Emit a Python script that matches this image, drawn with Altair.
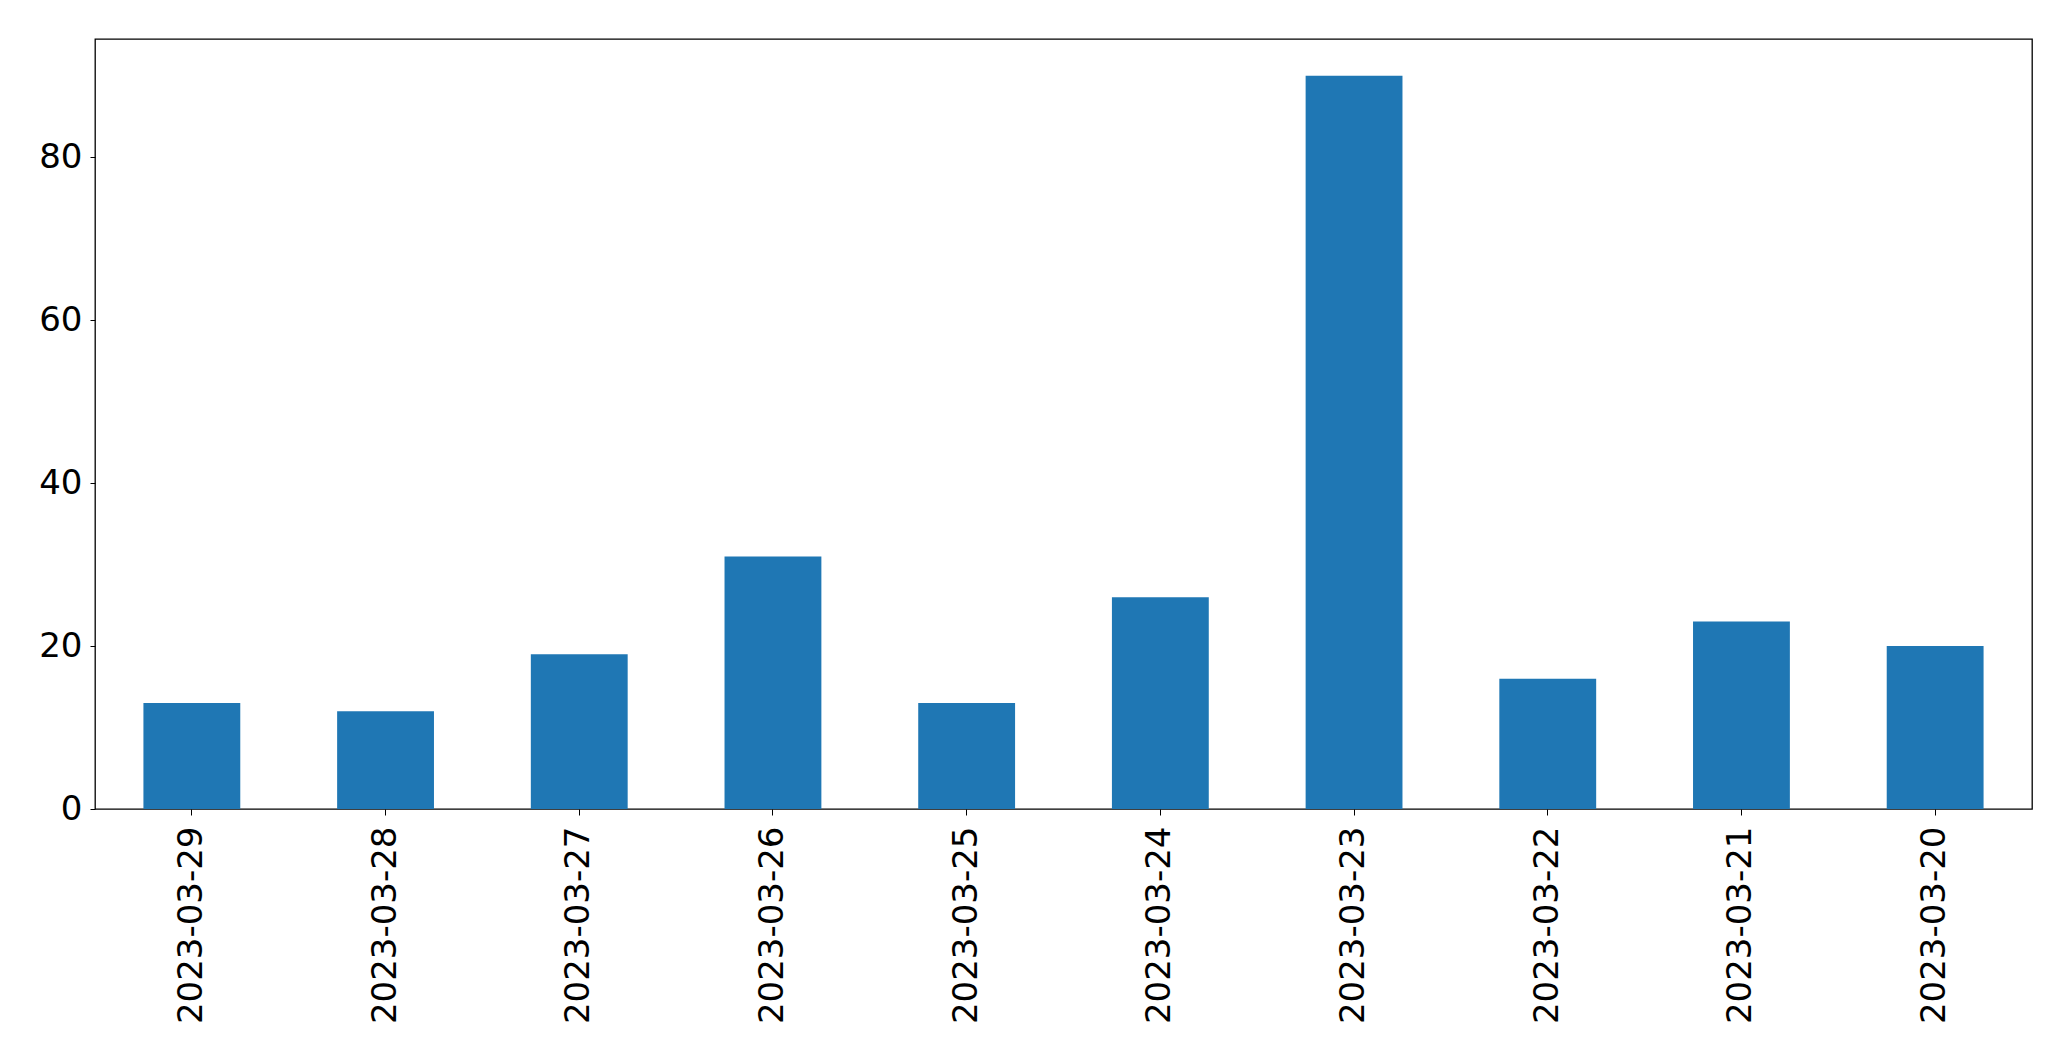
import altair as alt
import pandas as pd

dates = ["2023-03-29", "2023-03-28", "2023-03-27", "2023-03-26", "2023-03-25",
         "2023-03-24", "2023-03-23", "2023-03-22", "2023-03-21", "2023-03-20"]
counts = [13, 12, 19, 31, 13, 26, 90, 16, 23, 20]

df = pd.DataFrame({"date": dates, "count": counts})

chart = alt.Chart(df).mark_bar(color="#1f77b4").encode(
    x=alt.X("date:N", sort=dates, title=None,
            scale=alt.Scale(paddingInner=0.5, paddingOuter=0.25),
            axis=alt.Axis(labelAngle=-90, labelFontSize=34, labelFont="DejaVu Sans",
                          labelColor="black", tickColor="black", tickSize=6,
                          labelPadding=11, labelLimit=500, domain=False)),
    y=alt.Y("count:Q", title=None,
            scale=alt.Scale(domain=[0, 94.5], nice=False),
            axis=alt.Axis(values=[0, 20, 40, 60, 80], grid=False, labelFontSize=34,
                          labelFont="DejaVu Sans", labelColor="black",
                          tickColor="black", tickSize=5, labelPadding=8, domain=False)),
).properties(
    width=1937, height=770,
    autosize=alt.AutoSizeParams(type="none"),
    padding={"left": 95, "top": 39, "right": 39, "bottom": 252},
    background="white",
).configure_view(stroke="black", strokeWidth=1.3)

chart.save("out.html", embed_options={"renderer": "svg", "actions": False})
